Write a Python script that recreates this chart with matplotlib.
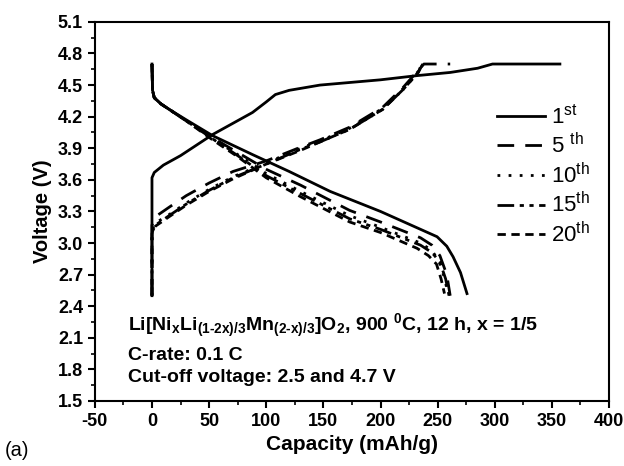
import matplotlib
matplotlib.use("Agg")
import matplotlib.pyplot as plt
from matplotlib.ticker import MultipleLocator

plt.rcParams['font.family'] = ['Liberation Sans', 'DejaVu Sans']
plt.rcParams['mathtext.fontset'] = 'custom'
plt.rcParams['mathtext.rm'] = 'Liberation Sans:bold'
plt.rcParams['mathtext.sf'] = 'Liberation Sans'
plt.rcParams['axes.unicode_minus'] = False

# ---- data ----
cycle_labels = [r'1$^{\mathsf{st}}$', r'5 $^{\mathsf{th}}$', r'10$^{\mathsf{th}}$',
                r'15$^{\mathsf{th}}$', r'20$^{\mathsf{th}}$']

ch1_x = [0, 0, 2, 10, 25, 53, 88, 100, 108, 120, 147, 200, 232, 261, 285, 298, 357]
ch1_y = [2.5, 3.62, 3.67, 3.74, 3.83, 4.03, 4.24, 4.34, 4.41, 4.45, 4.50, 4.55, 4.59, 4.62, 4.66, 4.70, 4.70]
ch5_x = [0, 0, 3, 15, 30, 50, 71, 100, 130, 147, 173, 202, 220, 233, 238, 261]
ch5_y = [2.5, 3.17, 3.25, 3.34, 3.45, 3.57, 3.68, 3.78, 3.91, 3.98, 4.10, 4.29, 4.48, 4.64, 4.70, 4.70]
ch10_x = [0, 0, 3, 15, 30, 50, 71, 100, 130, 147, 173, 202, 220, 233, 237]
ch10_y = [2.5, 3.12, 3.19, 3.27, 3.38, 3.51, 3.63, 3.76, 3.90, 3.97, 4.09, 4.28, 4.47, 4.63, 4.70]
ch15_x = [0, 0, 3, 15, 30, 50, 71, 100, 130, 147, 173, 202, 220, 233, 237]
ch15_y = [2.5, 3.10, 3.17, 3.26, 3.37, 3.50, 3.62, 3.75, 3.89, 3.96, 4.08, 4.27, 4.46, 4.62, 4.70]
ch20_x = [0, 0, 3, 15, 30, 50, 71, 100, 130, 147, 173, 202, 220, 233, 236]
ch20_y = [2.5, 3.09, 3.16, 3.25, 3.36, 3.49, 3.61, 3.75, 3.88, 3.96, 4.08, 4.27, 4.46, 4.62, 4.70]

dis1_x = [0, 0.5, 2, 8, 15, 30, 53, 88, 120, 156, 200, 249.5, 258, 263.5, 270, 275.7]
dis1_y = [4.70, 4.45, 4.38, 4.32, 4.27, 4.17, 4.02, 3.84, 3.68, 3.49, 3.30, 3.06, 2.97, 2.87, 2.72, 2.52]
dis5_x = [0, 0.5, 2, 8, 15, 30, 53, 75, 100, 130, 173, 200, 235, 245, 252, 258, 261]
dis5_y = [4.70, 4.45, 4.38, 4.32, 4.27, 4.16, 4.00, 3.86, 3.70, 3.55, 3.31, 3.20, 3.05, 2.98, 2.88, 2.70, 2.50]
dis10_x = [0, 0.5, 2, 8, 15, 30, 53, 75, 100, 130, 173, 200, 235, 245, 251, 256, 259]
dis10_y = [4.70, 4.45, 4.38, 4.32, 4.27, 4.16, 3.99, 3.84, 3.66, 3.49, 3.26, 3.15, 3.00, 2.93, 2.83, 2.67, 2.52]
dis15_x = [0, 0.5, 2, 8, 15, 30, 53, 75, 100, 130, 173, 200, 235, 245, 252, 257, 260]
dis15_y = [4.70, 4.45, 4.38, 4.32, 4.27, 4.16, 3.99, 3.83, 3.64, 3.47, 3.23, 3.13, 2.98, 2.91, 2.82, 2.66, 2.50]
dis20_x = [0, 0.5, 2, 8, 15, 30, 53, 75, 100, 130, 173, 200, 232, 242, 249, 253, 256]
dis20_y = [4.70, 4.45, 4.38, 4.32, 4.27, 4.16, 3.98, 3.82, 3.62, 3.44, 3.20, 3.10, 2.95, 2.88, 2.80, 2.66, 2.52]

x_ticks = [-50, 0, 50, 100, 150, 200, 250, 300, 350, 400]
y_ticks = [1.5, 1.8, 2.1, 2.4, 2.7, 3.0, 3.3, 3.6, 3.9, 4.2, 4.5, 4.8, 5.1]

charges = [(ch1_x, ch1_y), (ch5_x, ch5_y), (ch10_x, ch10_y), (ch15_x, ch15_y), (ch20_x, ch20_y)]
discharges = [(dis1_x, dis1_y), (dis5_x, dis5_y), (dis10_x, dis10_y), (dis15_x, dis15_y), (dis20_x, dis20_y)]

styles = ['-', (0, (6, 4)), (0, (1, 3)), (0, (6, 2, 1.5, 2, 1.5, 2)), (0, (3, 2))]

fig = plt.figure(figsize=(6.24, 4.66), dpi=100)
ax = fig.add_axes([0.152, 0.1395, 0.824, 0.8135])

for i in range(5):
    cx, cy = charges[i]
    dx, dy = discharges[i]
    ax.plot(cx, cy, color='black', lw=2.0, linestyle=styles[i], label=cycle_labels[i])
    ax.plot(dx, dy, color='black', lw=2.0, linestyle=styles[i])

ax.set_xlim(-50, 400)
ax.set_ylim(1.5, 5.1)
ax.set_xticks(x_ticks)
ax.set_xticklabels([str(v) for v in x_ticks])
ax.xaxis.set_minor_locator(MultipleLocator(25))
ax.set_yticks(y_ticks)
ax.set_yticklabels([f'{v:.1f}' for v in y_ticks])
ax.yaxis.set_minor_locator(MultipleLocator(0.15))
ax.tick_params(axis='both', which='major', length=5, width=1.5, labelsize=13, direction='out')
ax.tick_params(axis='both', which='minor', length=3, width=1.2, direction='out')
for lab in ax.get_xticklabels() + ax.get_yticklabels():
    lab.set_fontweight('bold')
for sp in ax.spines.values():
    sp.set_linewidth(1.5)

ax.set_xlabel('Capacity (mAh/g)', fontsize=15, fontweight='bold', labelpad=4)
ax.set_ylabel('Voltage (V)', fontsize=14.5, fontweight='bold', labelpad=4)

leg = ax.legend(loc='upper left', bbox_to_anchor=(0.764, 0.805), frameon=False,
                fontsize=16, handlelength=2.2, handletextpad=0.25, labelspacing=0.2,
                borderaxespad=0)

ax.text(0.064, 0.20,
        r'$\mathrm{Li[Ni_xLi_{(1\text{-}2x)/3}Mn_{(2\text{-}x)/3}]O_2}$, 900 $^\mathrm{0}$C, 12 h, x = 1/5',
        transform=ax.transAxes, fontsize=14, fontweight='bold', va='center')
ax.text(0.064, 0.121, 'C-rate: 0.1 C', transform=ax.transAxes, fontsize=14,
        fontweight='bold', va='center')
ax.text(0.064, 0.061, 'Cut-off voltage: 2.5 and 4.7 V', transform=ax.transAxes,
        fontsize=14, fontweight='bold', va='center')

fig.text(0.008, 0.034, '(a)', fontsize=14.5, va='center')

fig.savefig('out.png', dpi=100)
